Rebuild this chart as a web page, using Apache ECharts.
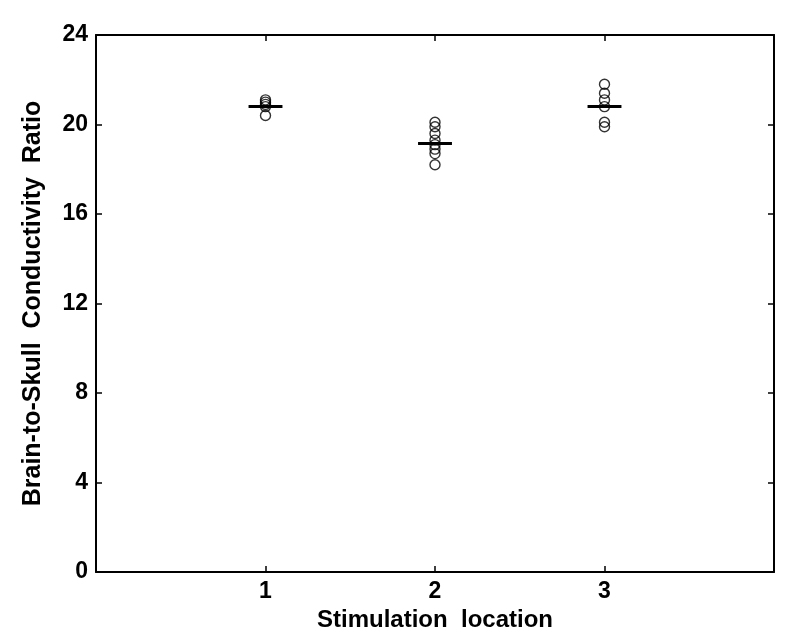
<!DOCTYPE html>
<html>
<head>
<meta charset="utf-8">
<script src="https://cdn.jsdelivr.net/npm/echarts@6/dist/echarts.min.js"></script>
<style>html,body{margin:0;padding:0;background:#fff;}#c{width:800px;height:642px;}</style>
</head>
<body>
<div id="c"></div>
<script>
var locations = [1, 2, 3];
var loc1Values = [21.1, 21.0, 20.9, 20.8, 20.4];
var loc2Values = [20.1, 19.9, 19.6, 19.3, 19.1, 18.9, 18.7, 18.2];
var loc3Values = [21.8, 21.4, 21.1, 20.8, 20.1, 19.9];
var meanValues = [20.8, 19.15, 20.8];
var yTicks = [0, 4, 8, 12, 16, 20, 24];

var groups = [loc1Values, loc2Values, loc3Values];
var scatterData = [];
groups.forEach(function (vals, i) {
  vals.forEach(function (v) { scatterData.push([locations[i], v]); });
});
var meanData = locations.map(function (x, i) { return [x, meanValues[i]]; });

var font = 'Liberation Sans, Arial, sans-serif';
var axisLine = { show: true, onZero: false, lineStyle: { color: '#000', width: 2 } };

var chart = echarts.init(document.getElementById('c'), null, { renderer: 'canvas' });
chart.setOption({
  backgroundColor: '#fff',
  animation: false,
  grid: { left: 96, right: 26, top: 35, bottom: 70, containLabel: false },
  xAxis: [{
    type: 'value', min: 0, max: 4, interval: 1,
    axisLine: axisLine,
    axisTick: { show: true, inside: true, length: 6, lineStyle: { color: '#000', width: 1.5 } },
    axisLabel: {
      color: '#000', fontWeight: 'bold', fontSize: 23, fontFamily: font, margin: 8,
      formatter: function (v) { return locations.indexOf(v) >= 0 ? String(v) : ''; }
    },
    splitLine: { show: false },
    name: 'Stimulation  location', nameLocation: 'middle', nameGap: 35,
    nameTextStyle: { color: '#000', fontWeight: 'bold', fontSize: 24, fontFamily: font }
  }, {
    type: 'value', min: 0, max: 4, interval: 1, position: 'top',
    axisLine: axisLine,
    axisTick: { show: true, inside: true, length: 6, lineStyle: { color: '#000', width: 1.5 } },
    axisLabel: { show: false }, splitLine: { show: false }
  }],
  yAxis: [{
    type: 'value', min: 0, max: 24, interval: 4,
    axisLine: axisLine,
    axisTick: { show: true, inside: true, length: 6, lineStyle: { color: '#000', width: 1.5 } },
    axisLabel: { color: '#000', fontWeight: 'bold', fontSize: 23, fontFamily: font, margin: 8,
      formatter: function (v) { return yTicks.indexOf(v) >= 0 ? String(v) : ''; } },
    splitLine: { show: false },
    name: 'Brain-to-Skull  Conductivity  Ratio', nameLocation: 'middle', nameGap: 50,
    nameTextStyle: { color: '#000', fontWeight: 'bold', fontSize: 25, fontFamily: font }
  }, {
    type: 'value', min: 0, max: 24, interval: 4, position: 'right',
    axisLine: axisLine,
    axisTick: { show: true, inside: true, length: 6, lineStyle: { color: '#000', width: 1.5 } },
    axisLabel: { show: false }, splitLine: { show: false }
  }],
  series: [{
    type: 'scatter',
    xAxisIndex: 0, yAxisIndex: 0,
    data: scatterData,
    symbol: 'circle', symbolSize: 10,
    itemStyle: { color: 'rgba(255,255,255,0)', borderColor: '#000', borderWidth: 1.4 },
    z: 3
  }, {
    type: 'custom',
    xAxisIndex: 0, yAxisIndex: 0,
    data: meanData,
    renderItem: function (params, api) {
      var x = api.value(0), y = api.value(1);
      var p1 = api.coord([x - 0.1, y]);
      var p2 = api.coord([x + 0.1, y]);
      return {
        type: 'line',
        shape: { x1: p1[0], y1: p1[1], x2: p2[0], y2: p2[1] },
        style: { stroke: '#000', lineWidth: 3 }
      };
    },
    z: 4
  }]
});
</script>
</body>
</html>
